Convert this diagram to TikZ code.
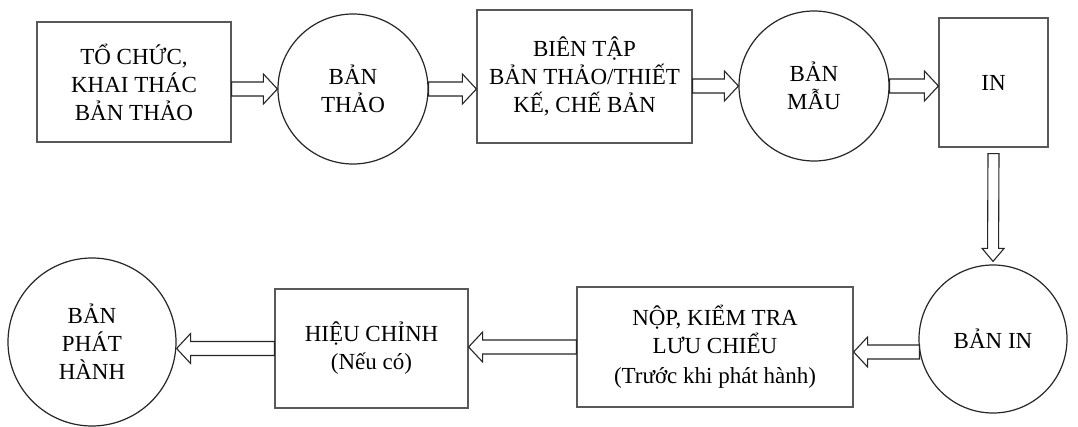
\documentclass[tikz,border=0pt]{standalone}
\usepackage{fontspec}
\setmainfont{Liberation Serif}
\usetikzlibrary{calc}
\tikzset{
  box/.style={draw=black!65, line width=1.2pt, rectangle, align=center, inner sep=0pt, font=\fontsize{23}{28}\selectfont},
  circ/.style={draw=black!85, line width=1.2pt, circle, align=center, inner sep=0pt, font=\fontsize{23}{28}\selectfont},
  blk/.style={draw=black!85, line width=1.1pt, fill=white, line join=miter}
}
% #1 start, #2 tip, #3 body half width, #4 head half width, #5 head length
\newcommand\blockarrow[5]{%
  \path (#1) coordinate (ba1) (#2) coordinate (ba2);
  \coordinate (bp) at ($(ba2)!#5!(ba1)$);
  \draw[blk] ($(ba1)!#3!90:(ba2)$) -- ($(bp)!#3!90:(ba2)$) -- ($(bp)!#4!90:(ba2)$)
    -- (ba2) -- ($(bp)!#4!-90:(ba2)$) -- ($(bp)!#3!-90:(ba2)$)
    -- ($(ba1)!#3!-90:(ba2)$) -- cycle;}
\begin{document}
\begin{tikzpicture}[x=1pt,y=-1pt]
\useasboundingbox[fill=white] (0,0) rectangle (1078,427);
% top row
\node[box, minimum width=194pt, minimum height=120pt] (b1) at (134,82) {TỔ CHỨC,\\KHAI THÁC\\BẢN THẢO};
\node[circ, minimum size=150pt] (c1) at (353,89) {BẢN\\THẢO};
\node[box, minimum width=215pt, minimum height=133pt] (b2) at (584.5,76.5) {BIÊN TẬP\\BẢN THẢO/THIẾT\\KẾ, CHẾ BẢN};
\node[circ, minimum size=150pt] (c2) at (814,86) {BẢN\\MẪU};
\node[box, minimum width=109pt, minimum height=129pt] (b3) at (993.5,82.5) {IN};
% bottom row
\node[circ, minimum size=148pt] (c3) at (993,339) {BẢN IN};
\node[box, minimum width=276pt, minimum height=120pt] (b4) at (715,347) {NỘP, KIỂM TRA\\LƯU CHIỂU\\[2pt](Trước khi phát hành)};
\node[box, minimum width=193pt, minimum height=119pt] (b5) at (371.5,348.5) {HIỆU CHỈNH\\(Nếu có)};
\node[circ, minimum size=168pt] (c4) at (92,342) {BẢN\\PHÁT\\HÀNH};
% connectors
\blockarrow{b1.east |- c1.center}{c1.west}{7pt}{15pt}{14pt}
\blockarrow{c1.east}{c1.east -| b2.west}{7pt}{15pt}{14pt}
\blockarrow{b2.east |- c2.center}{c2.west}{7pt}{15pt}{14pt}
\blockarrow{c2.east}{c2.east -| b3.west}{7pt}{15pt}{14pt}
\blockarrow{$(b3.south)+(0,6)$}{$(c3.north)+(0,-3)$}{5.5pt}{11pt}{13pt}
\blockarrow{c3.190}{c3.190 -| b4.east}{7pt}{15pt}{14pt}
\blockarrow{b4.west}{b4.west -| b5.east}{7pt}{15pt}{14pt}
\blockarrow{b5.west}{b5.west -| c4.east}{7pt}{15pt}{14pt}
\end{tikzpicture}
\end{document}
